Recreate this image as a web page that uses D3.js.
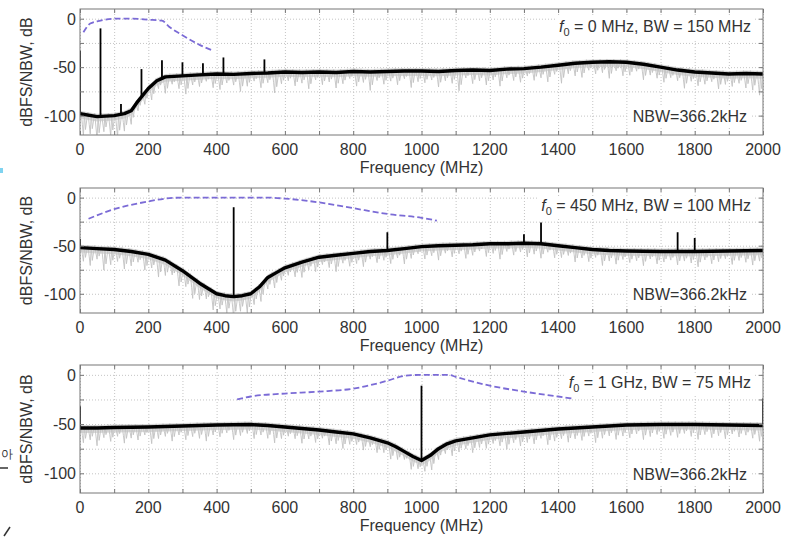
<!DOCTYPE html>
<html>
<head>
<meta charset="utf-8">
<script src="https://cdn.jsdelivr.net/npm/d3@7"></script>
<style>
	body { margin: 0; background: #fff; }
	svg text { font-family: "Liberation Sans", Arial, sans-serif; fill: #333; }
	.grid line { stroke: #c4c4c4; stroke-dasharray: 1,2; }
	.grid .domain, .ticks .domain { display: none; }
	.ticks line { stroke: #777; }
</style>
</head>
<body>
<svg id="chart" width="787" height="537"></svg>
<script>
'use strict';

// x axis (MHz)
var xGridTicks = d3.range(0, 2001, 100);
var xTickLabels = [0, 200, 400, 600, 800, 1000, 1200, 1400, 1600, 1800, 2000];
var yGridTicks = [0, -25, -50, -75, -100];
var yTickLabels = [0, -50, -100];

// averaged spectrum (black), [MHz, dB]
var black1 = [[0,-98],[50,-101],[100,-100],[130,-98],[150,-95],[170,-85],[200,-72],[225,-64],[250,-60],[300,-59],
	[350,-58],[400,-57],[450,-57.5],[500,-56.5],[550,-56],[600,-55],[650,-55.5],[700,-55],[750,-55.5],[800,-54.5],
	[850,-55],[900,-54.5],[950,-54],[1000,-54],[1050,-54.5],[1100,-53.5],[1150,-53],[1200,-53.5],[1250,-52],[1300,-51.5],
	[1350,-50],[1400,-48],[1450,-46],[1500,-45],[1550,-44.5],[1600,-45],[1650,-47],[1700,-50],[1750,-53],[1800,-55],
	[1850,-56],[1900,-57],[1950,-56.5],[2000,-57]];
var black2 = [[0,-52],[50,-53],[100,-54],[150,-56],[200,-59],[250,-65],[300,-76],[350,-89],[400,-100],[425,-102],
	[450,-103],[475,-102],[500,-100],[525,-93],[550,-83],[575,-78],[600,-73],[650,-67],[700,-62],[750,-60],
	[800,-58],[850,-56],[900,-55],[950,-53],[1000,-51],[1050,-50],[1100,-49.5],[1150,-49],[1200,-48],[1250,-48],
	[1300,-47.5],[1350,-48],[1400,-50],[1450,-52],[1500,-54],[1550,-55],[1600,-55.5],[1700,-56],[1800,-56],[1900,-55.5],[2000,-55]];
var black3 = [[0,-54],[50,-54],[100,-53.5],[200,-53],[300,-52],[400,-51],[500,-50.5],[550,-51.5],[600,-53],[650,-54.5],
	[700,-56],[750,-58],[800,-60],[850,-64],[900,-69],[925,-73],[950,-78],[975,-83],[1000,-87],[1025,-82],
	[1050,-75],[1075,-70],[1100,-67],[1150,-64],[1200,-61],[1300,-58],[1400,-55],[1500,-53],[1600,-51],[1700,-50.5],
	[1800,-50.5],[1900,-51],[2000,-51.5]];

// raw spectrum (grey): depth of the dips below the averaged trace, one every 20 MHz from 10 MHz
var gray1 = [22,19,24,16,21,23,18,14,10,12, 15,9,17,8,13,19,10,12,7,14, 16,9,11,18,13,8,15,10,21,12,
	9,14,11,17,8,13,10,16,12,7, 15,11,19,9,13,10,14,8,17,11, 12,9,16,10,13,21,8,14,11,15,
	10,17,9,12,14,8,13,11,16,9, 19,10,13,15,8,12,11,17,9,14, 13,8,16,10,12,15,9,11,18,10,
	14,12,9,16,11,13,10,15,17,22];
var gray2 = [14,18,11,22,16,12,19,15,10,17, 13,20,16,11,18,14,21,17,12,19, 15,18,22,16,19,14,17,12,15,11,
	9,13,16,10,14,8,12,17,9,13, 11,15,8,12,10,14,9,16,11,7, 13,10,15,8,12,9,14,11,7,13,
	10,16,8,12,9,14,11,15,8,13, 12,9,15,10,13,8,16,11,14,9, 12,10,15,8,13,11,9,14,10,12,
	16,9,13,11,8,14,10,12,15,11];
var gray3 = [15,12,18,10,14,9,16,11,13,8, 17,12,10,15,9,14,11,13,16,10, 12,8,15,11,9,14,10,13,17,12,
	9,11,15,10,13,8,14,12,16,11, 10,14,9,13,11,15,12,8,14,10, 13,16,11,9,14,12,10,15,11,13,
	9,12,16,10,14,11,13,8,15,12, 10,14,11,13,9,16,12,10,14,11, 13,9,15,12,10,14,11,13,9,12,
	15,10,13,11,14,9,12,10,13,16];

// tones / spurs, [MHz, peak dB]
var spikes1 = [[0,-33],[60,-10],[120,-88],[180,-52],[240,-43],[300,-45],[360,-46],[420,-40],[540,-42]];
var spikes2 = [[0,-43],[450,-10],[900,-36],[1300,-38],[1350,-26],[1750,-36],[1800,-42]];
var spikes3 = [[0,-32],[1000,-11],[2000,-24]];

// filter response (dashed), [MHz, dB]
var filter1 = [[10,-14],[30,-5],[60,-2],[100,0],[150,0],[200,-1],[240,-2],[260,-8],[300,-17],[350,-27],[390,-33]];
var filter2 = [[25,-22],[100,-12],[200,-4],[250,-1],[300,0],[400,0],[550,0],[600,-1],[700,-5],[800,-11],[900,-17],[1000,-21],[1045,-24]];
var filter3 = [[460,-25],[500,-22],[600,-19],[700,-17],[800,-14],[900,-6],[950,-1],[1000,0],[1080,0],[1100,-2],[1200,-11],[1300,-17],[1400,-22],[1440,-24]];

var f0Labels = ['0 MHz', '450 MHz', '1 GHz'];
var bwLabels = ['150 MHz', '100 MHz', '75 MHz'];

var panels = [
	{ top : 9, height : 126, black : black1, gray : gray1, spikes : spikes1, filter : filter1 },
	{ top : 188, height : 125, black : black2, gray : gray2, spikes : spikes2, filter : filter2 },
	{ top : 365, height : 128, black : black3, gray : gray3, spikes : spikes3, filter : filter3 }
];

var svg = d3.select('#chart');
var x = d3.scaleLinear().domain([0, 2000]).range([80, 763]);

panels.forEach(function (p, idx) {
	var bottom = p.top + p.height;
	var y = d3.scaleLinear().domain([-120, 10]).range([bottom, p.top]);
	var base = d3.scaleLinear().domain(p.black.map(function (d) { return d[0]; }))
		.range(p.black.map(function (d) { return d[1]; })).clamp(true);
	var g = svg.append('g');
	var clipId = 'clip' + idx;

	svg.append('clipPath').attr('id', clipId).append('rect')
		.attr('x', x(0)).attr('y', p.top).attr('width', x(2000) - x(0)).attr('height', p.height);

	// grid
	g.append('g').attr('class', 'grid').attr('transform', 'translate(0,' + bottom + ')')
		.call(d3.axisBottom(x).tickValues(xGridTicks).tickSize(-p.height).tickFormat(''));
	g.append('g').attr('class', 'grid').attr('transform', 'translate(' + x(0) + ',0)')
		.call(d3.axisLeft(y).tickValues(yGridTicks).tickSize(-(x(2000) - x(0))).tickFormat(''));

	var plot = g.append('g').attr('clip-path', 'url(#' + clipId + ')');

	// grey raw trace: thin band round the average plus a jagged line through the dips
	plot.append('path')
		.datum(p.black)
		.attr('fill', '#d8d8d8')
		.attr('d', d3.area()
			.x(function (d) { return x(d[0]); })
			.y0(function (d) { return y(d[1] - 5); })
			.y1(function (d) { return y(d[1] + 3); }));
	var jag = [];
	p.gray.forEach(function (d, i) {
		var f = 10 + 20 * i;
		jag.push([f - 7, base(f - 7) + 3]);
		jag.push([f - 3, base(f - 3) - d * 0.5]);
		jag.push([f, base(f) - d]);
		jag.push([f + 3, base(f + 3) + 2]);
		jag.push([f + 6, base(f + 6) - d * 0.7]);
	});
	plot.append('path')
		.datum(jag)
		.attr('fill', 'none')
		.attr('stroke', '#c2c2c2')
		.attr('stroke-width', 0.9)
		.attr('d', d3.line()
			.x(function (d) { return x(d[0]); })
			.y(function (d) { return y(d[1]); }));

	// filter response
	plot.append('path')
		.datum(p.filter)
		.attr('fill', 'none')
		.attr('stroke', '#7b6bd6')
		.attr('stroke-width', 1.8)
		.attr('stroke-dasharray', '6,3')
		.attr('d', d3.line().curve(d3.curveMonotoneX)
			.x(function (d) { return x(d[0]); })
			.y(function (d) { return y(d[1]); }));

	// spurs
	plot.append('g').selectAll('line')
		.data(p.spikes)
		.enter().append('line')
		.attr('x1', function (d) { return x(d[0]); })
		.attr('x2', function (d) { return x(d[0]); })
		.attr('y1', function (d) { return y(base(d[0])); })
		.attr('y2', function (d) { return y(d[1]); })
		.attr('stroke', '#000')
		.attr('stroke-width', 1.8);

	// averaged trace
	plot.append('path')
		.datum(p.black)
		.attr('fill', 'none')
		.attr('stroke', '#000')
		.attr('stroke-width', 3.4)
		.attr('stroke-linejoin', 'round')
		.attr('d', d3.line()
			.x(function (d) { return x(d[0]); })
			.y(function (d) { return y(d[1]); }));

	// box and inward ticks
	g.append('rect')
		.attr('x', x(0)).attr('y', p.top).attr('width', x(2000) - x(0)).attr('height', p.height)
		.attr('fill', 'none').attr('stroke', '#777');
	g.append('g').attr('class', 'ticks').attr('transform', 'translate(0,' + bottom + ')')
		.call(d3.axisBottom(x).tickValues(xGridTicks).tickSize(-4).tickFormat(''));
	g.append('g').attr('class', 'ticks').attr('transform', 'translate(0,' + p.top + ')')
		.call(d3.axisTop(x).tickValues(xGridTicks).tickSize(-4).tickFormat(''));
	g.append('g').attr('class', 'ticks').attr('transform', 'translate(' + x(0) + ',0)')
		.call(d3.axisLeft(y).tickValues(yGridTicks).tickSize(-4).tickFormat(''));
	g.append('g').attr('class', 'ticks').attr('transform', 'translate(' + x(2000) + ',0)')
		.call(d3.axisRight(y).tickValues(yGridTicks).tickSize(-4).tickFormat(''));

	// tick labels
	g.append('g').selectAll('text')
		.data(xTickLabels)
		.enter().append('text')
		.attr('x', function (d) { return x(d); })
		.attr('y', bottom + 20)
		.attr('text-anchor', 'middle')
		.attr('font-size', 16)
		.text(function (d) { return d; });
	g.append('g').selectAll('text')
		.data(yTickLabels)
		.enter().append('text')
		.attr('x', x(0) - 4)
		.attr('y', function (d) { return y(d) + 6; })
		.attr('text-anchor', 'end')
		.attr('font-size', 16)
		.text(function (d) { return d; });

	g.append('text')
		.attr('x', (x(0) + x(2000)) / 2)
		.attr('y', bottom + 38)
		.attr('text-anchor', 'middle')
		.attr('font-size', 16)
		.text('Frequency (MHz)');
	g.append('text')
		.attr('transform', 'translate(32,' + (p.top + p.height / 2) + ') rotate(-90)')
		.attr('text-anchor', 'middle')
		.attr('font-size', 16)
		.text('dBFS/NBW, dB');

	// annotations with white boxes
	var titleBox = g.append('rect').attr('fill', '#fff');
	var title = g.append('text')
		.attr('x', 751)
		.attr('y', p.top + 23)
		.attr('text-anchor', 'end')
		.attr('font-size', 16);
	title.append('tspan').attr('font-style', 'italic').text('f');
	title.append('tspan').attr('font-size', 11).attr('dy', 4).text('0');
	title.append('tspan').attr('dy', -4).text(' = ' + f0Labels[idx] + ', BW = ' + bwLabels[idx]);
	var tb = title.node().getBBox();
	titleBox.attr('x', tb.x - 4).attr('y', tb.y - 1).attr('width', tb.width + 8).attr('height', tb.height + 2);

	var nbwBox = g.append('rect').attr('fill', '#fff');
	var nbw = g.append('text')
		.attr('x', 747)
		.attr('y', bottom - 13)
		.attr('text-anchor', 'end')
		.attr('font-size', 16)
		.text('NBW=366.2kHz');
	var nb = nbw.node().getBBox();
	nbwBox.attr('x', nb.x - 5).attr('y', nb.y - 2).attr('width', nb.width + 10).attr('height', nb.height + 4);
});

// bits of the neighbouring page at the left edge
svg.append('rect').attr('x', 0).attr('y', 168).attr('width', 3).attr('height', 5).attr('fill', '#7fd3f0');
svg.append('text').attr('x', 1).attr('y', 458).attr('font-size', 12).text('아');
svg.append('line').attr('x1', 0).attr('x2', 8).attr('y1', 468).attr('y2', 468).attr('stroke', '#333').attr('stroke-width', 1.5);
svg.append('line').attr('x1', 4).attr('x2', 10).attr('y1', 536).attr('y2', 527).attr('stroke', '#333').attr('stroke-width', 1.5);
</script>
</body>
</html>
